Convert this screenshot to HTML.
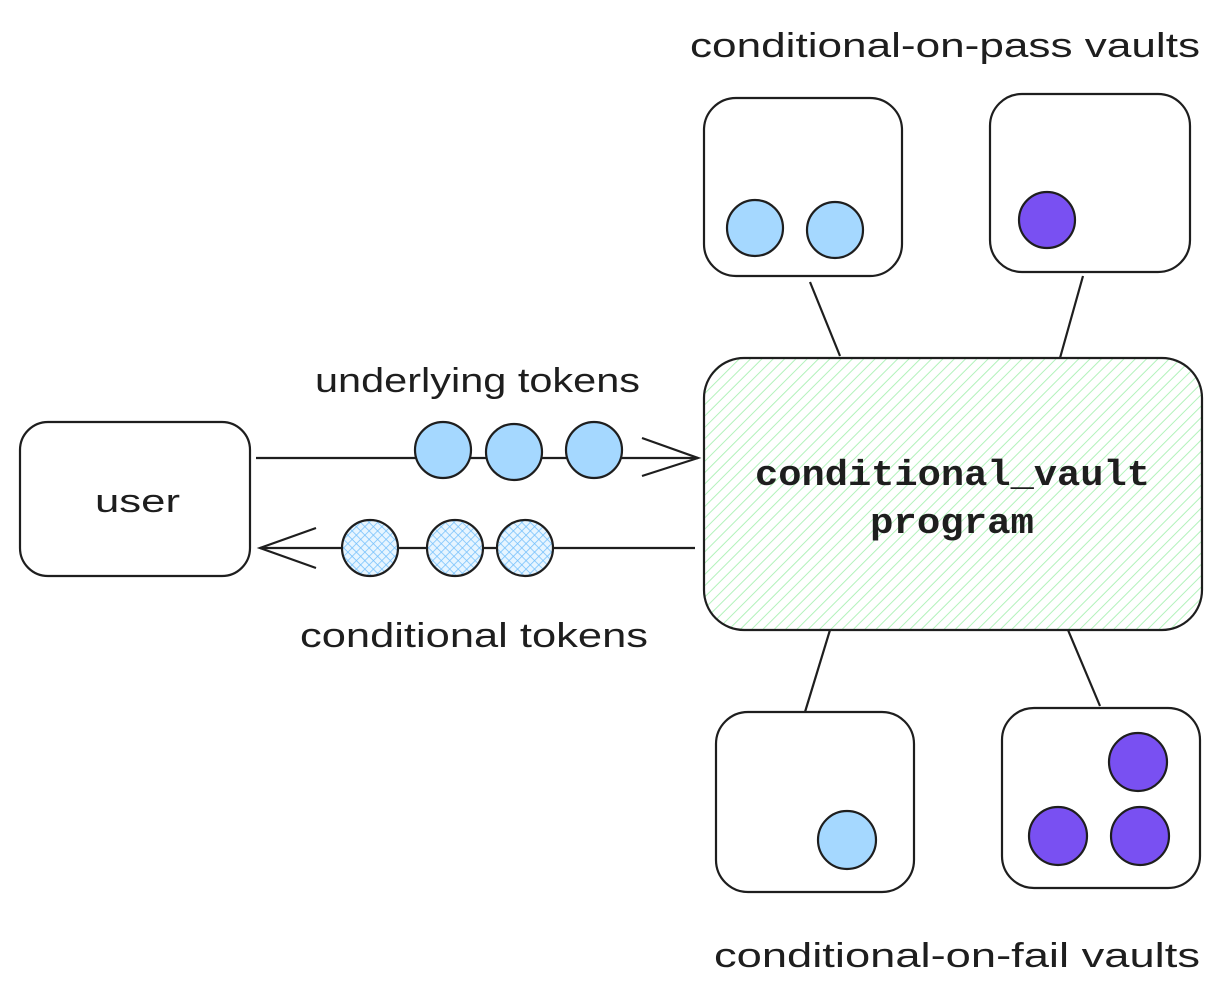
<!DOCTYPE html>
<html><head><meta charset="utf-8"><style>
html,body{margin:0;padding:0;background:#fff;}
svg{display:block;}
text{font-family:"Liberation Sans",sans-serif;fill:#1e1e1e;}
</style></head><body>
<svg width="1222" height="998" viewBox="0 0 1222 998" xmlns="http://www.w3.org/2000/svg">
<defs>
<pattern id="g" width="8" height="8" patternUnits="userSpaceOnUse" patternTransform="rotate(45)">
<rect width="8" height="8" fill="#fff"/><line x1="0" y1="0" x2="0" y2="8" stroke="#b2f2bb" stroke-width="2"/>
</pattern>
<pattern id="x" width="6" height="6" patternUnits="userSpaceOnUse" patternTransform="rotate(45)">
<rect width="6" height="6" fill="#e7f5ff"/><line x1="0" y1="0" x2="0" y2="6" stroke="#74c0fc" stroke-width="1.5"/><line x1="0" y1="0" x2="6" y2="0" stroke="#74c0fc" stroke-width="1.5"/>
</pattern>
</defs>
<g fill="none" stroke="#1e1e1e" stroke-width="2.2">
<text x="690" y="57" font-size="34" textLength="510" lengthAdjust="spacingAndGlyphs" stroke="none">conditional-on-pass vaults</text>
<rect x="704" y="98" width="198" height="178" rx="32" fill="#fff"/>
<rect x="990" y="94" width="200" height="178" rx="32" fill="#fff"/>
<line x1="810" y1="282" x2="840" y2="356"/>
<line x1="1083" y1="276" x2="1060" y2="358"/>
<rect x="704" y="358" width="498" height="272" rx="40" fill="url(#g)"/>
<text x="755" y="485" font-size="36" font-weight="bold" textLength="395" lengthAdjust="spacingAndGlyphs" stroke="none" style="font-family:'Liberation Mono',monospace">conditional_vault</text>
<text x="870" y="533" font-size="36" font-weight="bold" textLength="164" lengthAdjust="spacingAndGlyphs" stroke="none" style="font-family:'Liberation Mono',monospace">program</text>
<rect x="20" y="422" width="230" height="154" rx="28" fill="#fff"/>
<text x="95" y="512" font-size="32" textLength="85" lengthAdjust="spacingAndGlyphs" stroke="none">user</text>
<text x="315" y="392" font-size="34" textLength="325" lengthAdjust="spacingAndGlyphs" stroke="none">underlying tokens</text>
<text x="300" y="647" font-size="34" textLength="348" lengthAdjust="spacingAndGlyphs" stroke="none">conditional tokens</text>
<line x1="256" y1="458" x2="698" y2="458"/>
<polyline points="642,438 698,458 642,476"/>
<line x1="695" y1="548" x2="260" y2="548"/>
<polyline points="316,528 260,548 316,568"/>
<circle cx="443" cy="450" r="28" fill="#a5d8ff"/>
<circle cx="514" cy="452" r="28" fill="#a5d8ff"/>
<circle cx="594" cy="450" r="28" fill="#a5d8ff"/>
<circle cx="370" cy="548" r="28" fill="url(#x)"/>
<circle cx="455" cy="548" r="28" fill="url(#x)"/>
<circle cx="525" cy="548" r="28" fill="url(#x)"/>
<circle cx="755" cy="228" r="28" fill="#a5d8ff"/>
<circle cx="835" cy="230" r="28" fill="#a5d8ff"/>
<circle cx="1047" cy="220" r="28" fill="#7950f2"/>
<line x1="830" y1="630" x2="805" y2="712"/>
<line x1="1068" y1="630" x2="1100" y2="706"/>
<rect x="716" y="712" width="198" height="180" rx="32" fill="#fff"/>
<rect x="1002" y="708" width="198" height="180" rx="32" fill="#fff"/>
<circle cx="847" cy="840" r="29" fill="#a5d8ff"/>
<circle cx="1138" cy="762" r="29" fill="#7950f2"/>
<circle cx="1058" cy="836" r="29" fill="#7950f2"/>
<circle cx="1140" cy="836" r="29" fill="#7950f2"/>
<text x="714" y="967" font-size="34" textLength="486" lengthAdjust="spacingAndGlyphs" stroke="none">conditional-on-fail vaults</text>
</g>
</svg>
</body></html>
